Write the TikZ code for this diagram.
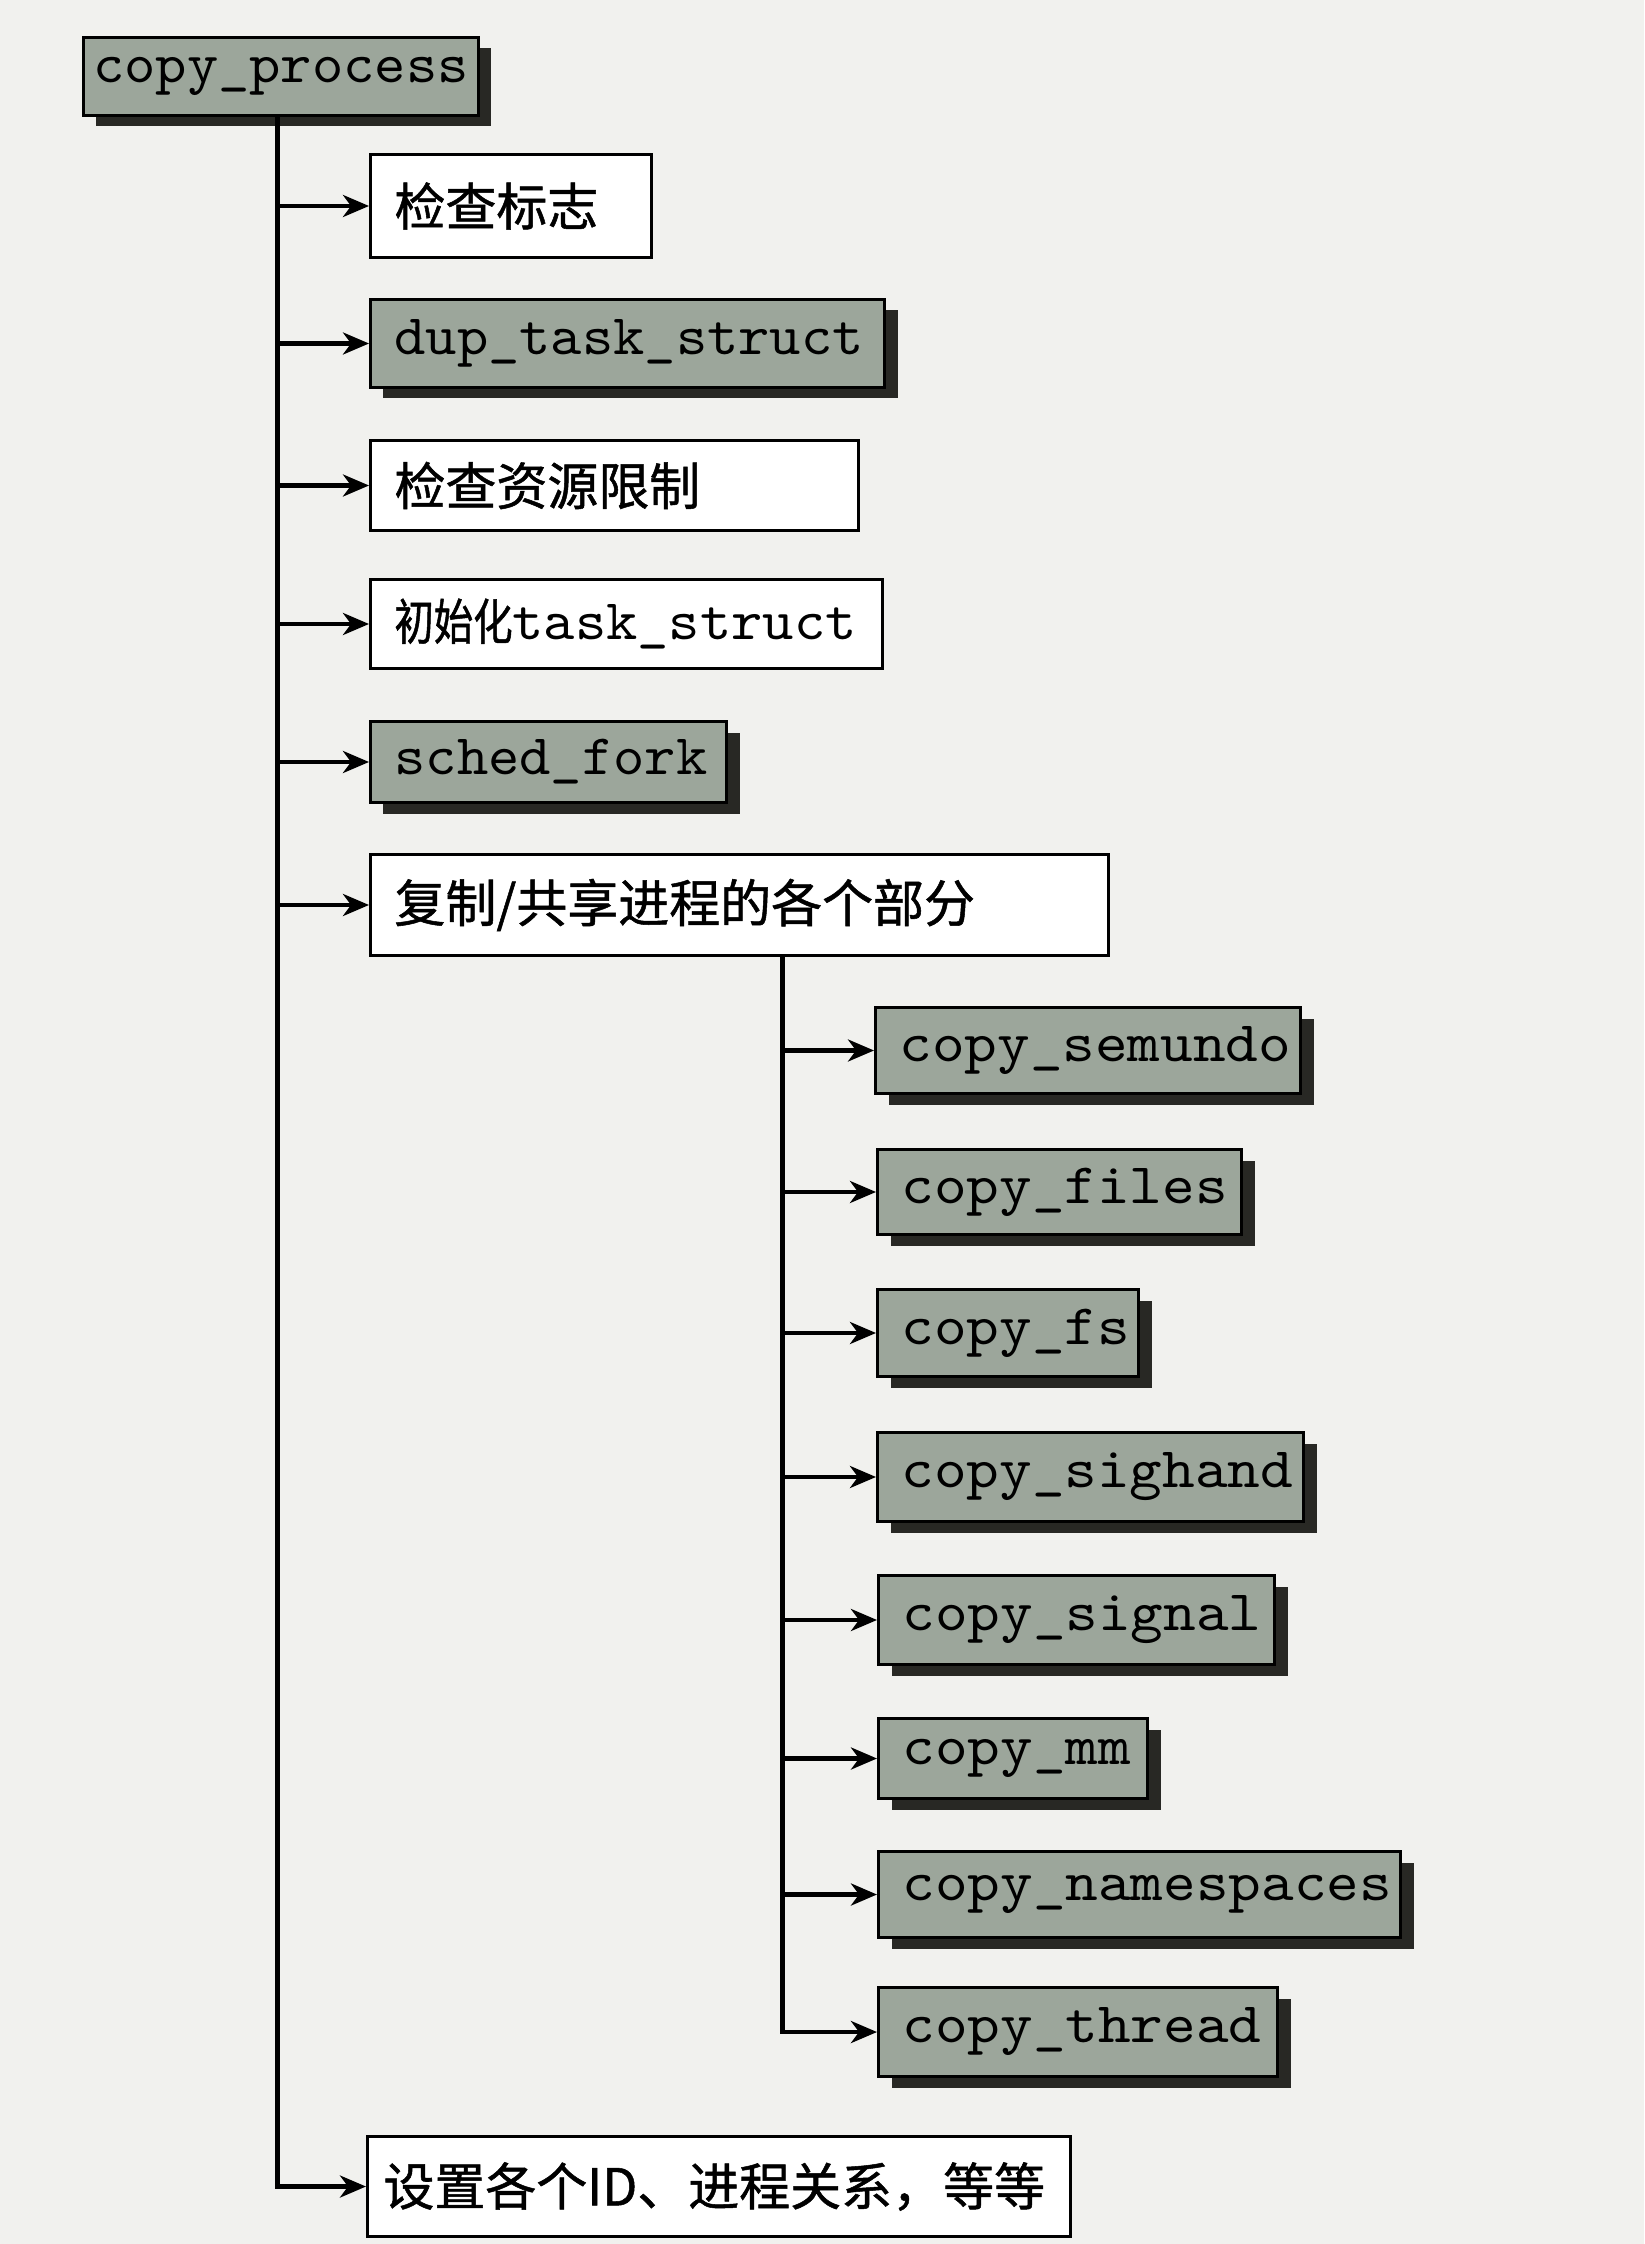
\documentclass[tikz,border=0pt]{standalone}
\usepackage{fontspec}
\newfontfamily\cjk{Noto Sans CJK SC}[FakeBold=1]
\newfontfamily\cjkn{Noto Sans CJK SC}[FakeBold=1,FakeStretch=0.8]
\newfontfamily\code{lmmono10-regular.otf}[FakeStretch=1.04]
\newfontfamily\codew{lmmono10-regular.otf}[FakeStretch=1.085]
\usetikzlibrary{arrows.meta,shadows}
\definecolor{paper}{RGB}{241,241,238}
\definecolor{gfill}{RGB}{156,166,155}
\definecolor{shadowc}{RGB}{40,40,36}
\tikzset{
  basebox/.style={draw=black, line width=0.85pt, rectangle, anchor=north west,
    inner xsep=2.4mm, inner ysep=0pt, align=left},
  whitebox/.style={basebox, fill=white, font=\cjk\fontsize{14.5}{17}\selectfont},
  greybox/.style={basebox, fill=gfill, font=\code\fontsize{16.3}{18}\selectfont,
    drop shadow={shadow xshift=1.3mm, shadow yshift=-1.1mm, fill=shadowc, opacity=1}},
  subbox/.style={greybox, font=\codew\fontsize{16.3}{18}\selectfont},
  arr/.style={line width=1.2pt, -{Stealth[length=2.6mm,width=2.2mm,inset=0.8mm]}}
}
\begin{document}
\begin{tikzpicture}[x=0.1mm,y=-0.1mm]
\fill[paper] (0,0) rectangle (1644,2244);
\useasboundingbox (0,0) rectangle (1644,2244);

\node[greybox, inner xsep=0pt, minimum width=39.5mm, minimum height=7.8mm, align=center] (cp) at (82,36) {copy\_process};

\node[whitebox, text width=23.3mm, minimum height=10.3mm] (n1) at (369,153) {检查标志};
\node[greybox, text width=46.6mm, minimum height=8.8mm] (n2) at (369,298) {dup\_task\_struct};
\node[whitebox, text width=44.0mm, minimum height=9.0mm] (n3) at (369,439) {检查资源限制};
\node[whitebox, text width=46.4mm, minimum height=8.9mm] (n4) at (369,578) {{\cjkn\fontsize{14}{17}\selectfont 初始化}{\code\fontsize{16.3}{18}\selectfont task\_struct}};
\node[greybox, text width=30.8mm, minimum height=8.1mm] (n5) at (369,720) {sched\_fork};
\node[whitebox, text width=69.0mm, minimum height=10.1mm] (n6) at (369,853) {复制/共享进程的各个部分};

\node[subbox, text width=37.7mm, minimum height=8.6mm] (s1) at (874,1006) {copy\_semundo};
\node[subbox, text width=31.6mm, minimum height=8.5mm] (s2) at (876,1148) {copy\_files};
\node[subbox, text width=21.3mm, minimum height=8.7mm] (s3) at (876,1288) {copy\_fs};
\node[subbox, text width=37.8mm, minimum height=8.9mm] (s4) at (876,1431) {copy\_sighand};
\node[subbox, text width=34.8mm, minimum height=8.9mm] (s5) at (877,1574) {copy\_signal};
\node[subbox, text width=22.1mm, minimum height=8.0mm] (s6) at (877,1717) {copy\_mm};
\node[subbox, text width=47.4mm, minimum height=8.6mm] (s7) at (877,1850) {copy\_namespaces};
\node[subbox, text width=35.1mm, minimum height=8.9mm] (s8) at (877,1986) {copy\_thread};

\node[whitebox, inner xsep=1.6mm, text width=67.1mm, minimum height=10.0mm] (n7) at (366,2135) {设置各个ID、进程关系，等等};

\coordinate (tr) at ([xshift=-0.35mm]cp.south);
\coordinate (st) at ([xshift=4.3mm]n6.south);

\draw[arr] (tr) |- (n7.west);
\foreach \n in {n1,n2,n3,n4,n5,n6}
  \draw[arr] (tr |- \n.west) -- (\n.west);

\draw[arr] (st) |- (s8.west);
\foreach \n in {s1,s2,s3,s4,s5,s6,s7}
  \draw[arr] (st |- \n.west) -- (\n.west);
\end{tikzpicture}
\end{document}
